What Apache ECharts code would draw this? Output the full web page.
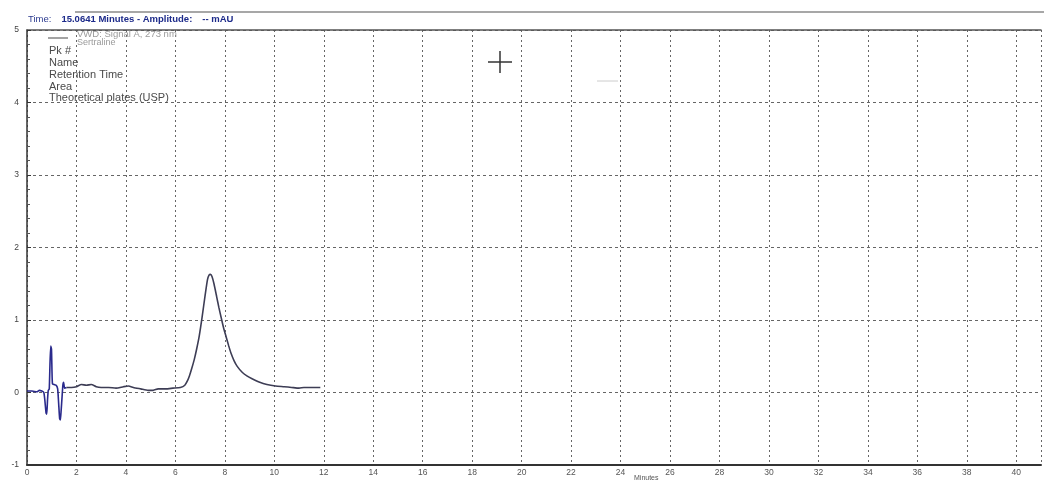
<!DOCTYPE html>
<html>
<head>
<meta charset="utf-8">
<script src="https://cdn.jsdelivr.net/npm/echarts@6/dist/echarts.min.js"></script>
<style>html,body{margin:0;padding:0;background:#fff}#c{width:1044px;height:486px}</style>
</head>
<body>
<div id="c"></div>
<script>
// Retention time (minutes) and detector amplitude (mAU)
var times = [0.00,0.20,0.40,0.50,0.60,0.68,0.72,0.77,0.80,0.83,0.86,0.90,0.93,0.96,0.99,1.01,1.03,1.10,1.18,1.24,1.28,1.32,1.35,1.38,1.42,1.45,1.48,1.52,1.60,1.80,2.00,2.20,2.40,2.60,2.80,3.00,3.30,3.60,3.90,4.10,4.30,4.60,4.90,5.10,5.30,5.60,5.90,6.20,6.38,6.50,6.57,6.66,6.76,6.86,6.96,7.08,7.21,7.30,7.36,7.42,7.48,7.56,7.67,7.76,7.86,7.95,8.05,8.15,8.25,8.37,8.50,8.70,8.89,9.10,9.41,9.70,10.05,10.40,10.70,11.00,11.20,11.50,11.86];
var amplitude = [0.02,0.02,0.01,0.03,0.02,0.00,-0.10,-0.28,-0.30,-0.10,0.03,0.05,0.40,0.64,0.60,0.30,0.12,0.11,0.10,0.05,-0.15,-0.36,-0.38,-0.25,-0.05,0.10,0.14,0.06,0.07,0.07,0.08,0.11,0.10,0.11,0.08,0.07,0.07,0.06,0.08,0.09,0.07,0.05,0.03,0.03,0.05,0.05,0.06,0.07,0.10,0.17,0.23,0.33,0.45,0.60,0.77,1.04,1.36,1.56,1.62,1.63,1.60,1.50,1.32,1.17,1.02,0.89,0.77,0.65,0.54,0.44,0.36,0.28,0.23,0.19,0.14,0.11,0.09,0.08,0.07,0.06,0.07,0.07,0.07];
var titleParts = ["Time:", "15.0641", "Minutes - Amplitude:", "-- mAU"];
var legendLines = ["VWD: Signal A, 273 nm", "Sertraline"];
var peakTableLabels = ["Pk #", "Name", "Retention Time", "Area", "Theoretical plates (USP)"];
var xAxisName = "Minutes";

var chart = echarts.init(document.getElementById('c'));
var early = [], late = [];
times.forEach(function (t, i) {
  if (t <= 1.6) early.push([t, amplitude[i]]);
  if (t >= 1.6) late.push([t, amplitude[i]]);
});

var graphics = [
  { type: 'line', shape: { x1: 75, y1: 12, x2: 1044, y2: 12 }, style: { stroke: '#8a8a8a', lineWidth: 1.5 }, z: 10 },
  { type: 'text', left: 28, top: 13, style: {
      text: '{a|' + titleParts[0] + '}   {b|' + titleParts[1] + ' ' + titleParts[2] + '}   {b|' + titleParts[3] + '}',
      rich: { a: { fill: '#2b3a8f', fontSize: 9.5, fontFamily: 'Liberation Sans' },
              b: { fill: '#1c2a8a', fontSize: 9.5, fontWeight: 'bold', fontFamily: 'Liberation Sans' } } }, z: 10 },
  { type: 'line', shape: { x1: 48, y1: 38, x2: 68, y2: 38 }, style: { stroke: '#666', lineWidth: 1.2 }, z: 10 },
  { type: 'text', left: 77, top: 29, style: { text: legendLines[0], fill: '#9a9a9a', fontSize: 9.5, fontFamily: 'Liberation Sans' }, z: 10 },
  { type: 'text', left: 77, top: 38, style: { text: legendLines[1], fill: '#9a9a9a', fontSize: 9, fontFamily: 'Liberation Sans' }, z: 10 },
  { type: 'line', shape: { x1: 488, y1: 62, x2: 512, y2: 62 }, style: { stroke: '#333', lineWidth: 1.5 }, z: 10 },
  { type: 'line', shape: { x1: 500, y1: 51, x2: 500, y2: 73 }, style: { stroke: '#333', lineWidth: 1.5 }, z: 10 },
  { type: 'line', shape: { x1: 597, y1: 81, x2: 618, y2: 81 }, style: { stroke: '#ccc', lineWidth: 1 }, z: 10 },
  { type: 'text', left: 634, top: 475, style: { text: xAxisName, fill: '#555', fontSize: 7, fontFamily: 'Liberation Sans' }, z: 10 }
];
var ys = [45, 57, 69, 81, 92];
peakTableLabels.forEach(function (s, i) {
  graphics.push({ type: 'text', left: 49, top: ys[i], style: { text: s, fill: '#4a4a4a', fontSize: 11, fontFamily: 'Liberation Sans' }, z: 10 });
});

chart.setOption({
  animation: false,
  backgroundColor: '#ffffff',
  grid: { left: 27, right: 0, top: 30, bottom: 21 },
  graphic: graphics,
  xAxis: [{
    type: 'value', min: 0, max: 41, interval: 2,
    axisLine: { onZero: false, lineStyle: { color: '#333', width: 2 } },
    axisTick: { show: false },
    axisLabel: { color: '#555', fontSize: 8.5, margin: 3, fontFamily: 'Liberation Sans',
      formatter: function (v) { return (v % 2 === 0) ? String(v) : ''; } },
    splitLine: { show: true, lineStyle: { color: '#666', type: [2, 3], width: 1 } }
  }, {
    type: 'value', position: 'top', min: 0, max: 41,
    axisLine: { show: true, onZero: false, lineStyle: { color: '#555', width: 1.5 } },
    axisTick: { show: false }, axisLabel: { show: false }, splitLine: { show: false }
  }],
  yAxis: {
    type: 'value', min: -1, max: 5, interval: 1,
    axisLine: { show: true, onZero: false, lineStyle: { color: '#333', width: 1.5 } },
    axisTick: { show: true, inside: true, length: 4, lineStyle: { color: '#333' } },
    minorTick: { show: true, splitNumber: 5, length: 3, lineStyle: { color: '#555' } },
    axisLabel: { color: '#444', fontSize: 8.5, margin: 8, fontFamily: 'Liberation Sans' },
    splitLine: { show: true, lineStyle: { color: '#666', type: [3, 3], width: 1 } }
  },
  series: [{
    type: 'line', data: early, showSymbol: false, smooth: 0.15,
    lineStyle: { width: 1.6, color: '#2a2a8c' }, itemStyle: { color: '#2a2a8c' }
  }, {
    type: 'line', data: late, showSymbol: false, smooth: 0.2,
    lineStyle: { width: 1.6, color: '#3d3d55' }, itemStyle: { color: '#3d3d55' }
  }]
});
</script>
</body>
</html>
